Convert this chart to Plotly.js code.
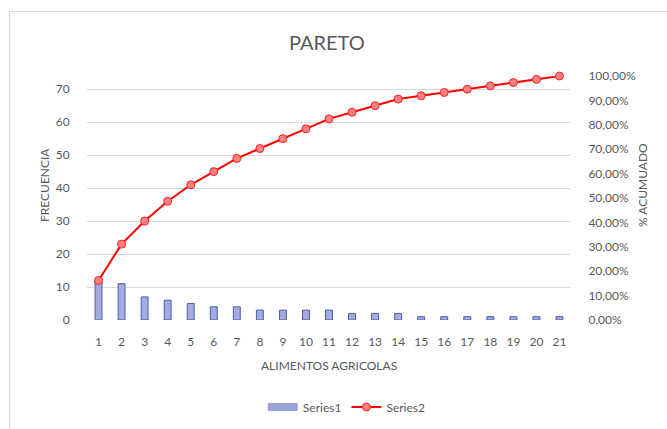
<!DOCTYPE html>
<html>
<head>
<meta charset="utf-8">
<script src="https://cdn.plot.ly/plotly-3.0.1.min.js"></script>
<style>
  html, body { margin: 0; padding: 0; background: #fff; }
  #wrap { position: relative; width: 667px; height: 429px; }
  #chart { width: 667px; height: 429px; }
  #frame { position: absolute; left: 9px; top: 11px; width: 670px; height: 430px;
           border-top: 1px solid #d9d9d9; border-left: 1px solid #d9d9d9; pointer-events: none; }
</style>
</head>
<body>
<div id="wrap">
  <div id="chart"></div>
  <div id="frame"></div>
</div>
<script>
const categories = ['1','2','3','4','5','6','7','8','9','10','11','12','13','14','15','16','17','18','19','20','21'];
const frecuencia = [12, 11, 7, 6, 5, 4, 4, 3, 3, 3, 3, 2, 2, 2, 1, 1, 1, 1, 1, 1, 1];
const acumulado = [0.1622, 0.3108, 0.4054, 0.4865, 0.5541, 0.6081, 0.6622, 0.7027, 0.7432, 0.7838,
                   0.8243, 0.8514, 0.8784, 0.9054, 0.9189, 0.9324, 0.9459, 0.9595, 0.9730, 0.9865, 1.0];
const total = 74;

const txt = '#595959';
const fontFam = 'Lato, "Liberation Sans", sans-serif';
const barFill = '#a3acdc';
const barEdge = '#4c5cae';

const traces = [
  {
    type: 'bar', name: 'Series1', x: categories, y: frecuencia,
    marker: { color: barFill, line: { color: barEdge, width: 1 } },
    showlegend: false,
    yaxis: 'y'
  },
  {
    // legend-only entry that mimics the wide bar swatch of the original legend
    type: 'scatter', mode: 'lines', name: 'Series1', x: [null], y: [null],
    line: { color: '#9ba4d8', width: 8 },
    legendrank: 1, hoverinfo: 'skip',
    yaxis: 'y'
  },
  {
    type: 'scatter', mode: 'lines+markers', name: 'Series2', x: categories, y: acumulado,
    line: { color: '#ff0000', width: 2 },
    marker: { symbol: 'circle', size: 8, color: '#ff8080', line: { color: '#ff2020', width: 1 } },
    cliponaxis: false, legendrank: 2,
    yaxis: 'y2'
  }
];

const layout = {
  width: 667, height: 429,
  margin: { l: 87, r: 96, t: 76, b: 109 },
  paper_bgcolor: '#ffffff', plot_bgcolor: '#ffffff',
  font: { family: fontFam, color: txt, size: 12 },
  separators: ',.',
  bargap: 0.7,
  showlegend: true,
  title: { text: 'PARETO', font: { size: 20, color: txt, family: fontFam }, x: 0.49, xanchor: 'center', y: 0.9, yanchor: 'middle', yref: 'container' },
  xaxis: {
    type: 'category', range: [-0.5, categories.length - 0.5], autorange: false,
    showgrid: false, zeroline: false, showline: false, automargin: false,
    ticks: 'outside', ticklen: 11, tickcolor: 'rgba(0,0,0,0)',
    tickfont: { size: 12, color: txt }
  },
  yaxis: {
    range: [0, total], tickvals: [0, 10, 20, 30, 40, 50, 60, 70], automargin: false,
    showgrid: true, gridcolor: '#d9d9d9', gridwidth: 1, zeroline: false, showline: false,
    ticks: 'outside', ticklen: 14, tickcolor: 'rgba(0,0,0,0)',
    tickfont: { size: 12, color: txt }
  },
  yaxis2: {
    overlaying: 'y', side: 'right', range: [0, 1], dtick: 0.1, tick0: 0, automargin: false,
    tickformat: '.2%', showgrid: false, zeroline: false, showline: false,
    ticks: 'outside', ticklen: 14, tickcolor: 'rgba(0,0,0,0)',
    tickfont: { size: 12, color: txt }
  },
  annotations: [
    { text: 'ALIMENTOS AGRICOLAS', xref: 'paper', yref: 'paper', x: 0.5, y: (320 - 365) / 244,
      xanchor: 'center', yanchor: 'middle', showarrow: false, font: { size: 12, color: txt } },
    { text: 'FRECUENCIA', xref: 'paper', yref: 'paper', x: (44 - 87) / 484, y: (320 - 185) / 244,
      xanchor: 'center', yanchor: 'middle', textangle: -90, showarrow: false, font: { size: 12, color: txt } },
    { text: '% ACUMUADO', xref: 'paper', yref: 'paper', x: (642 - 87) / 484, y: (320 - 185) / 244,
      xanchor: 'center', yanchor: 'middle', textangle: -90, showarrow: false, font: { size: 12, color: txt } }
  ],
  legend: {
    orientation: 'h', x: 0.52, xanchor: 'center', xref: 'container',
    y: 1 - 407 / 429, yanchor: 'middle', yref: 'container',
    font: { size: 12, color: txt }, itemwidth: 30, traceorder: 'normal'
  }
};

Plotly.newPlot('chart', traces, layout, { displayModeBar: false, staticPlot: true });
</script>
</body>
</html>
